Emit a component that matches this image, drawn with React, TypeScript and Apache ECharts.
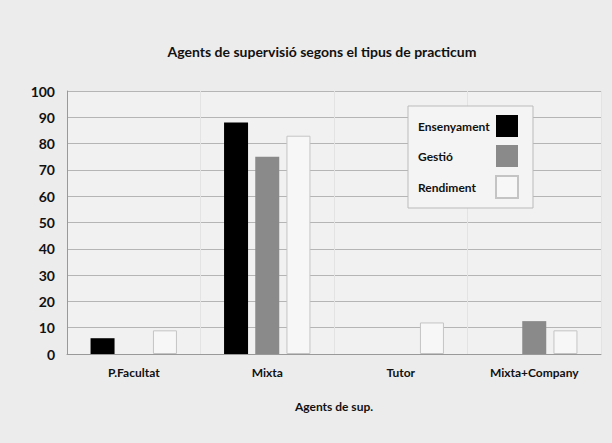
import React, { useEffect, useRef } from "react";
import * as echarts from "echarts";

const categories = ["P.Facultat", "Mixta", "Tutor", "Mixta+Company"];
const ensenyament = [6, 88, 0, 0];
const gestio = [0, 75, 0, 12.5];
const rendiment = [9, 83, 12, 9];
const yTicks = [0, 10, 20, 30, 40, 50, 60, 70, 80, 90, 100];

const FONT = "Lato, 'DejaVu Sans Condensed', sans-serif";

export default function App() {
  const ref = useRef<HTMLDivElement>(null);
  useEffect(() => {
    if (!ref.current) return;
    const chart = echarts.init(ref.current, undefined, { renderer: "svg" });
    chart.setOption({
      animation: false,
      backgroundColor: "#ececec",
      title: {
        text: "Agents de supervisió segons el tipus de practicum",
        left: 317,
        top: 39,
        textAlign: "center",
        textStyle: { fontFamily: FONT, fontWeight: "bold", fontSize: 14, color: "#111" },
      },
      legend: {
        orient: "vertical",
        left: 408,
        top: 106,
        align: "right",
        icon: "rect",
        itemWidth: 22,
        itemHeight: 22,
        itemGap: 8,
        padding: [9, 14, 9, 10],
        backgroundColor: "#f4f4f4",
        borderColor: "#bbbbbb",
        borderWidth: 1,
        formatter: (name: string) => "{a|" + name + "}",
        textStyle: {
          fontFamily: FONT,
          fontWeight: "bold",
          fontSize: 12,
          color: "#111",
          rich: {
            a: { width: 73, align: "left", fontFamily: FONT, fontWeight: "bold", fontSize: 12, color: "#111" },
          },
        },
        data: ["Ensenyament", "Gestió", "Rendiment"],
      },
      grid: {
        left: 67,
        right: 11,
        top: 91,
        bottom: 89,
        show: true,
        backgroundColor: "#f1f1f1",
        borderWidth: 0,
      },
      xAxis: {
        type: "category",
        data: categories,
        name: "Agents de sup.",
        nameLocation: "middle",
        nameGap: 46,
        nameTextStyle: { fontFamily: FONT, fontWeight: "bold", fontSize: 12, color: "#111" },
        axisLine: { show: true, lineStyle: { color: "#999", width: 1 } },
        axisTick: { show: false },
        axisLabel: {
          fontFamily: FONT,
          fontWeight: "bold",
          fontSize: 12,
          color: "#111",
          margin: 12,
        },
        splitLine: { show: true, lineStyle: { color: "#e3e3e3", width: 1 } },
      },
      yAxis: {
        type: "value",
        min: 0,
        max: 100,
        interval: 10,
        axisLine: { show: true, lineStyle: { color: "#999", width: 1 } },
        axisTick: { show: false },
        axisLabel: {
          fontFamily: FONT,
          fontWeight: "bold",
          fontSize: 14,
          color: "#111",
          margin: 12,
          formatter: (v: number) => (yTicks.includes(v) ? String(v) : ""),
        },
        splitLine: { show: true, lineStyle: { color: "#b5b5b5", width: 1 } },
      },
      series: [
        {
          name: "Ensenyament",
          type: "bar",
          data: ensenyament,
          barWidth: 24,
          barGap: "30%",
          itemStyle: { color: "#000000" },
        },
        {
          name: "Gestió",
          type: "bar",
          data: gestio,
          barWidth: 24,
          barGap: "30%",
          itemStyle: { color: "#8a8a8a" },
        },
        {
          name: "Rendiment",
          type: "bar",
          data: rendiment,
          barWidth: 24,
          barGap: "30%",
          itemStyle: { color: "#f7f7f7", borderColor: "#c4c4c4", borderWidth: 1 },
        },
      ],
    });
    return () => chart.dispose();
  }, []);
  return (
    <div
      ref={ref}
      style={{ position: "absolute", left: 0, top: 0, width: 612, height: 443 }}
    />
  );
}
